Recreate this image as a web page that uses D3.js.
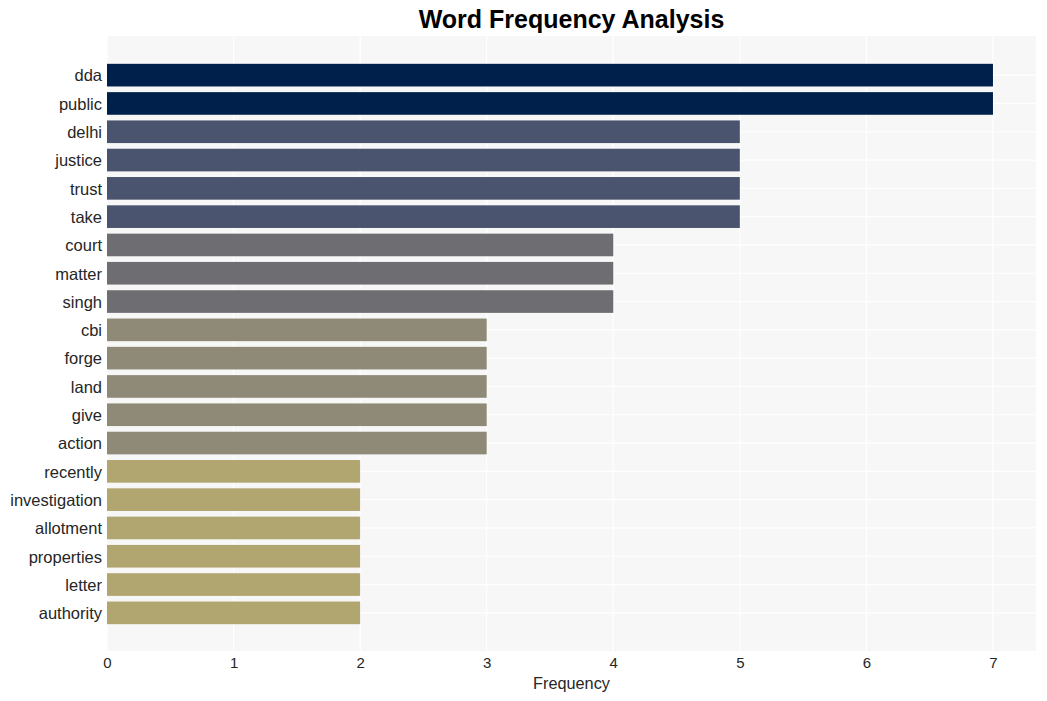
<!DOCTYPE html>
<html>
<head>
<meta charset="utf-8">
<script src="https://cdn.jsdelivr.net/npm/d3@7"></script>
<style>
  body { margin: 0; background: #fff; }
  svg text { font-family: "Liberation Sans", Arial, sans-serif; }
</style>
</head>
<body>
<svg id="chart" width="1047" height="701"></svg>
<script>
const words = ["dda","public","delhi","justice","trust","take","court","matter","singh","cbi","forge","land","give","action","recently","investigation","allotment","properties","letter","authority"];
const counts = [7,7,5,5,5,5,4,4,4,3,3,3,3,3,2,2,2,2,2,2];
const xTicks = [0,1,2,3,4,5,6,7];
const colorByCount = {7:"#00204c",5:"#4b546e",4:"#6e6e72",3:"#8f8a78",2:"#b1a570"};
const title = "Word Frequency Analysis";
const xLabel = "Frequency";

(function(){
const svg = d3.select("#chart");
const pL = 107, pR = 1036, pT = 36, pB = 651;

const x = d3.scaleLinear().domain([0, 7.34]).range([pL, pR]);
const y = d3.scaleBand().domain(words).range([61, 627]).paddingInner(0.2).paddingOuter(0.1);

svg.append("rect").attr("x", pL).attr("y", pT).attr("width", pR-pL).attr("height", pB-pT).attr("fill", "#f7f7f7");

svg.append("g").selectAll("line").data(xTicks).join("line")
  .attr("x1", d => x(d)).attr("x2", d => x(d)).attr("y1", pT).attr("y2", pB)
  .attr("stroke", "#ffffff").attr("stroke-width", 1.2);
svg.append("g").selectAll("line").data(words).join("line")
  .attr("x1", pL).attr("x2", pR).attr("y1", d => y(d)+y.bandwidth()/2).attr("y2", d => y(d)+y.bandwidth()/2)
  .attr("stroke", "#ffffff").attr("stroke-width", 1.2);

svg.append("g").selectAll("rect").data(words).join("rect")
  .attr("x", x(0)).attr("y", d => y(d))
  .attr("width", (d,i) => x(counts[i]) - x(0)).attr("height", y.bandwidth())
  .attr("fill", (d,i) => colorByCount[counts[i]]);

const yAxis = svg.append("g").attr("transform", `translate(${pL},1)`)
  .call(d3.axisLeft(y).tickSize(0).tickPadding(5));
yAxis.select(".domain").remove();
yAxis.selectAll("text").attr("font-size", 16.5).attr("fill", "#262626");

const xAxis = svg.append("g").attr("transform", `translate(0,${pB})`)
  .call(d3.axisBottom(x).tickValues(xTicks).tickFormat(d3.format("d")).tickSize(0).tickPadding(6));
xAxis.select(".domain").remove();
xAxis.selectAll("text").attr("font-size", 15).attr("fill", "#262626");

svg.append("text").attr("x", (pL+pR)/2).attr("y", 689).attr("text-anchor", "middle")
  .attr("font-size", 16.3).attr("fill", "#262626").text(xLabel);

svg.append("text").attr("x", (pL+pR)/2).attr("y", 28).attr("text-anchor", "middle")
  .attr("font-size", 25).attr("font-weight", "bold").attr("fill", "#000").text(title);
})();
</script>
</body>
</html>
